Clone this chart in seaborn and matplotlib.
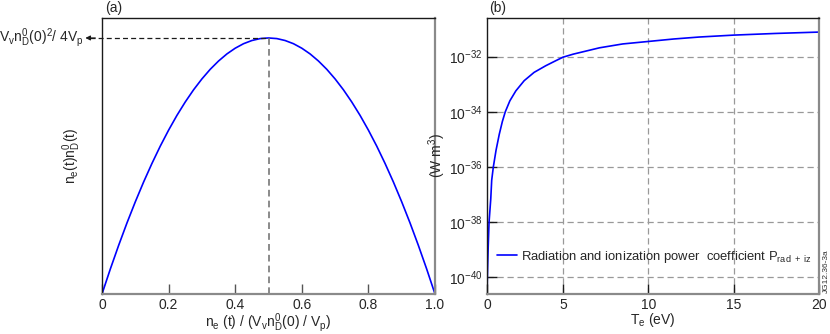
import numpy as np
import matplotlib
matplotlib.use('Agg')
import matplotlib.pyplot as plt
import seaborn as sns
import pandas as pd

#%% data
# (a) normalised density product vs n_e
ne_frac = [0.0, 0.025, 0.05, 0.075, 0.1, 0.125, 0.15, 0.175, 0.2, 0.225, 0.25,
           0.275, 0.3, 0.325, 0.35, 0.375, 0.4, 0.425, 0.45, 0.475, 0.5,
           0.525, 0.55, 0.575, 0.6, 0.625, 0.65, 0.675, 0.7, 0.725, 0.75,
           0.775, 0.8, 0.825, 0.85, 0.875, 0.9, 0.925, 0.95, 0.975, 1.0]
ne_nd = [0.0, 0.0244, 0.0475, 0.0694, 0.09, 0.1094, 0.1275, 0.1444, 0.16, 0.1744, 0.1875,
         0.1994, 0.21, 0.2194, 0.2275, 0.2344, 0.24, 0.2444, 0.2475, 0.2494, 0.25,
         0.2494, 0.2475, 0.2444, 0.24, 0.2344, 0.2275, 0.2194, 0.21, 0.1994, 0.1875,
         0.1744, 0.16, 0.1444, 0.1275, 0.1094, 0.09, 0.0694, 0.0475, 0.0244, 0.0]
# (b) radiation + ionization power coefficient, log10(W m^3)
te_ev = [0.55, 0.57, 0.62, 0.67, 0.77, 0.825, 0.92, 1.08, 1.27, 1.45, 1.62, 1.89,
         2.24, 2.73, 3.31, 3.99, 4.57, 5.0, 5.6, 6.27, 7.14, 8.5, 10.0, 11.5,
         12.97, 15.0, 17.44, 20.0]
log_prad = [-40.7, -40.0, -38.9, -38.0, -37.16, -36.48, -36.0, -35.39, -34.81, -34.35,
            -34.0, -33.6, -33.24, -32.87, -32.57, -32.33, -32.15, -32.02, -31.91, -31.81,
            -31.68, -31.54, -31.45, -31.36, -31.29, -31.22, -31.16, -31.11]
te_ticks = [5, 10, 15, 20]
p_ticks = [1e-40, 1e-38, 1e-36, 1e-34, 1e-32]

df_a = pd.DataFrame({'x': ne_frac, 'y': ne_nd})
df_b = pd.DataFrame({'T': te_ev, 'P': 10.0 ** np.array(log_prad)})

#%% style
sns.set_style('ticks')
plt.rcParams['font.family'] = ['Liberation Sans', 'DejaVu Sans']
plt.rcParams['mathtext.fontset'] = 'custom'
plt.rcParams['mathtext.rm'] = 'Liberation Sans'
plt.rcParams['mathtext.it'] = 'Liberation Sans:italic'
plt.rcParams['mathtext.default'] = 'regular'
plt.rcParams['font.size'] = 10

W, H = 830, 334
fig = plt.figure(figsize=(W / 100, H / 100), dpi=100)
ax1 = fig.add_axes([102 / W, 40 / H, 333 / W, 276 / H])
ax2 = fig.add_axes([487 / W, 40 / H, 332 / W, 276 / H])

dark = '#1a1a1a'
grey = '#8a8a8a'
for ax in (ax1, ax2):
    ax.spines['left'].set_color(dark)
    ax.spines['top'].set_color(dark)
    ax.spines['left'].set_linewidth(1.0)
    ax.spines['top'].set_linewidth(1.0)
    ax.spines['bottom'].set_color(grey)
    ax.spines['right'].set_color(grey)
    ax.spines['bottom'].set_linewidth(1.6)
    ax.spines['right'].set_linewidth(1.6)
    ax.spines['top'].set_visible(True)
    ax.spines['right'].set_visible(True)

#%% (a)
sns.lineplot(data=df_a, x='x', y='y', ax=ax1, color='#0000ff', lw=1.2, legend=False)
ax1.set_xlim(0, 1.0)
ax1.set_ylim(0, 0.2695)
ax1.set_xticks([0, 0.2, 0.4, 0.6, 0.8, 1.0])
ax1.set_xticklabels(['0', '0.2', '0.4', '0.6', '0.8', '1.0'])
ax1.set_yticks([])
ax1.tick_params(axis='x', direction='in', length=7, width=1, color='#555555', pad=3,
                labelsize=10)
ipk = int(np.argmax(ne_nd))
xpk, ypk = ne_frac[ipk], ne_nd[ipk]
ax1.plot([-0.035, xpk], [ypk, ypk], ls=(0, (4, 2.5)), color=dark, lw=0.9, clip_on=False)
ax1.plot([xpk, xpk], [0, ypk], ls=(0, (4, 2.5)), color='#777777', lw=1.2)
ax1.annotate('', xy=(-0.05, ypk), xytext=(-0.02, ypk),
             arrowprops=dict(arrowstyle='-|>', color=dark, lw=0.8, mutation_scale=7,
                             shrinkA=0, shrinkB=0), annotation_clip=False)
ax1.text(-0.054, ypk, r'V$_v$n$_D^0$(0)$^2$/ 4V$_p$', ha='right', va='center',
         fontsize=10, transform=ax1.transData, clip_on=False)
ax1.set_xlabel(r'n$_e$ (t) / (V$_v$n$_D^0$(0) / V$_p$)', fontsize=10, labelpad=-1)
ax1.set_ylabel(r'n$_e$(t)n$_D^0$(t)', fontsize=10, labelpad=14)
ax1.text(0.01, 1.01, '(a)', transform=ax1.transAxes, ha='left', va='bottom', fontsize=10)

#%% (b)
sns.lineplot(data=df_b, x='T', y='P', ax=ax2, color='#0000ff', lw=1.2,
             label=r'Radiation and ionization power  coefficient P$_{rad\ +\ iz}$')
ax2.set_yscale('log')
ax2.set_xlim(0.55, 20)
ax2.set_ylim(10 ** -40.6, 10 ** -30.6)
ax2.set_xticks([0.55] + te_ticks)
ax2.set_xticklabels(['0'] + [str(t) for t in te_ticks])
ax2.set_yticks(p_ticks)
ax2.yaxis.set_minor_locator(matplotlib.ticker.NullLocator())
ax2.tick_params(axis='both', direction='in', length=7, width=1, color=dark, pad=3,
                labelsize=10)
for t in te_ticks[:-1]:
    ax2.axvline(t, color='#999999', lw=0.9, ls=(0, (5, 3)), zorder=0)
for p in p_ticks:
    ax2.axhline(p, color='#999999', lw=0.9, ls=(0, (5, 3)), zorder=0)
ax2.set_xlabel(r'T$_e$ (eV)', fontsize=10, labelpad=-1)
ax2.set_ylabel(r'(W m$^3$)', fontsize=10, labelpad=1)
ax2.text(0.005, 1.01, '(b)', transform=ax2.transAxes, ha='left', va='bottom', fontsize=10)
ax2.legend(loc='center left', bbox_to_anchor=(0.03, 0.134), frameon=False,
           borderpad=0, borderaxespad=0, handlelength=1.5, handletextpad=0.35,
           fontsize=9.4)

fig.text(826 / W, 1 - 271 / H, 'JG12.36-3a', rotation=90, ha='center', va='center',
         fontsize=6, color='#333333')

fig.savefig('out.png', dpi=100)
